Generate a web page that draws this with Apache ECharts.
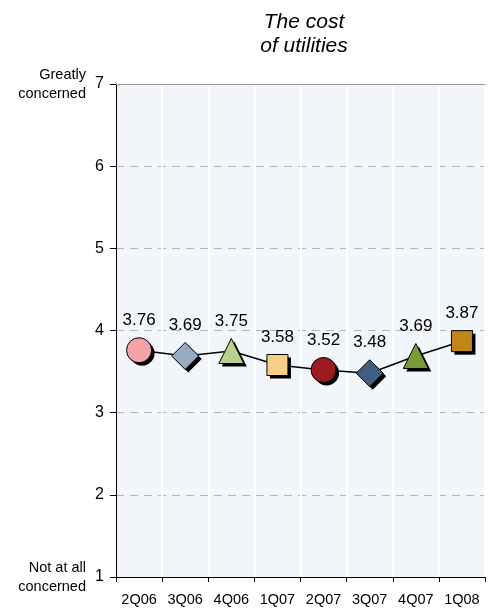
<!DOCTYPE html>
<html>
<head>
<meta charset="utf-8">
<script src="https://cdn.jsdelivr.net/npm/echarts@6/dist/echarts.min.js"></script>
<style>
  html, body { margin: 0; padding: 0; background: #fff; }
  #chart { width: 488px; height: 610px; }
</style>
</head>
<body>
<div id="chart"></div>
<script>
// Quarterly concern scores for the cost of utilities (1 = not at all, 7 = greatly)
const quarters = ['2Q06', '3Q06', '4Q06', '1Q07', '2Q07', '3Q07', '4Q07', '1Q08'];
const scores = [3.76, 3.69, 3.75, 3.58, 3.52, 3.48, 3.69, 3.87];
const symbols = ['circle', 'diamond', 'triangle', 'rect', 'circle', 'diamond', 'triangle', 'rect'];
const symbolSizes = [25, 27, 25, 21, 25, 27, 25, 21];
const colors = ['#f4a4a8', '#94adc5', '#b8d28e', '#f5cf87', '#9c1b20', '#3f5f80', '#7a9a3c', '#c0861a'];
const yTicks = [1, 2, 3, 4, 5, 6, 7];

const FONT = '"Liberation Sans", Arial, sans-serif';

const chart = echarts.init(document.getElementById('chart'), null, { renderer: 'canvas' });

const option = {
  animation: false,
  title: {
    text: 'The cost\nof utilities',
    left: 299,
    top: 5,
    textAlign: 'center',
    textStyle: { fontFamily: FONT, fontStyle: 'italic', fontWeight: 'normal', fontSize: 21, color: '#000', lineHeight: 24 }
  },
  grid: {
    left: 116, right: 3, top: 84, bottom: 33,
    show: true, backgroundColor: '#f2f6fa', borderWidth: 0
  },
  xAxis: [{
    type: 'category',
    data: quarters,
    boundaryGap: true,
    axisLine: { lineStyle: { color: '#000', width: 1 } },
    axisTick: { show: true, interval: 0, length: 5, lineStyle: { color: '#000' } },
    axisLabel: { interval: 0, fontFamily: FONT, fontSize: 14.5, color: '#000', margin: 15 },
    splitLine: { show: true, interval: 0, lineStyle: { color: '#ffffff', width: 2 } }
  }, {
    type: 'category',
    data: quarters,
    position: 'top',
    axisLine: { lineStyle: { color: '#9a9a9a', width: 1 } },
    axisTick: { show: false },
    axisLabel: { show: false },
    splitLine: { show: false }
  }],
  yAxis: {
    type: 'value',
    min: yTicks[0],
    max: yTicks[yTicks.length - 1],
    interval: 1,
    axisLine: { show: true, lineStyle: { color: '#000', width: 1 } },
    axisTick: { show: true, length: 6, lineStyle: { color: '#000' } },
    axisLabel: { fontFamily: FONT, fontSize: 16, color: '#000', margin: 12 },
    splitLine: { show: true, lineStyle: { color: '#b4b4b4', type: [8, 6], width: 1 } }
  },
  series: [{
    // drop shadows behind each marker
    type: 'line',
    xAxisIndex: 0,
    data: scores.map((v, i) => ({
      value: v,
      symbol: symbols[i],
      symbolSize: symbolSizes[i]
    })),
    symbolOffset: [3, 3],
    lineStyle: { width: 0, opacity: 0 },
    itemStyle: { color: '#000', borderWidth: 0 },
    label: { show: false },
    silent: true,
    z: 3
  }, {
    type: 'line',
    xAxisIndex: 0,
    data: scores.map((v, i) => ({
      value: v,
      symbol: symbols[i],
      symbolSize: symbolSizes[i],
      itemStyle: { color: colors[i] }
    })),
    lineStyle: { color: '#000', width: 1.5 },
    itemStyle: { borderColor: '#000', borderWidth: 1 },
    label: {
      show: true, position: 'top', distance: 8,
      fontFamily: FONT, fontSize: 17, color: '#000',
      formatter: p => p.value.toFixed(2)
    },
    z: 5
  }]
};

chart.setOption(option);

// End-of-scale descriptions placed beside the 1 and 7 ticks
const yTop = chart.convertToPixel({ yAxisIndex: 0 }, yTicks[yTicks.length - 1]);
const yBottom = chart.convertToPixel({ yAxisIndex: 0 }, yTicks[0]);
const scaleTextStyle = { fontFamily: FONT, fontSize: 14.5, fill: '#000', align: 'right', verticalAlign: 'middle', lineHeight: 19 };
chart.setOption({
  graphic: [
    { type: 'text', x: 86, y: yTop, style: Object.assign({ text: 'Greatly\nconcerned' }, scaleTextStyle) },
    { type: 'text', x: 86, y: yBottom, style: Object.assign({ text: 'Not at all\nconcerned' }, scaleTextStyle) }
  ]
});
</script>
</body>
</html>
